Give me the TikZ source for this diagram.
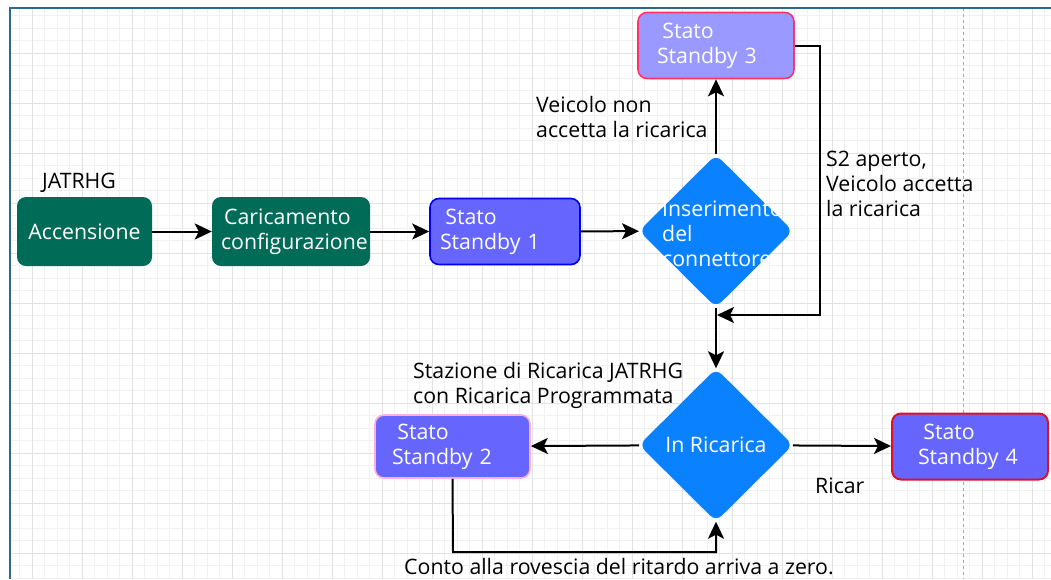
\documentclass[tikz,border=0pt]{standalone}
\usepackage{fontspec}
\setmainfont{Open Sans}
\usetikzlibrary{shapes.geometric,arrows.meta}

\definecolor{gridminor}{HTML}{F1F1F1}
\definecolor{gridmajor}{HTML}{E2E2E2}
\definecolor{framecol}{HTML}{2B6A8C}
\definecolor{startgreen}{HTML}{006B56}
\definecolor{standbyfill}{HTML}{6666FF}
\definecolor{standbylight}{HTML}{9999FF}
\definecolor{decisionblue}{HTML}{0A82FF}
\definecolor{borderblue}{HTML}{0000EE}
\definecolor{borderpink}{HTML}{FF3366}
\definecolor{borderrose}{HTML}{FFB0D8}
\definecolor{borderred}{HTML}{DD1122}

\begin{document}
\begin{tikzpicture}[x=1pt,y=-1pt,
    txt/.style={font=\fontsize{21.3}{25}\selectfont},
    greenbox/.style={txt, rectangle, rounded corners=9pt, fill=startgreen, text=white,
        minimum width=#1, minimum height=69pt, align=left, inner sep=2pt},
    standby/.style={txt, rectangle, rounded corners=9pt, fill=standbyfill, text=white,
        minimum width=156pt, minimum height=66pt, align=left, line width=1.6pt, inner sep=2pt},
    decision/.style={txt, diamond, rounded corners=8pt, fill=decisionblue, text=white,
        minimum width=154pt, minimum height=153pt, inner sep=0pt},
    note/.style={txt, align=left, inner sep=0pt, text=black},
    arr/.style={line width=2pt, -{Stealth[length=17pt,width=16pt,inset=4pt]}}
]
    \useasboundingbox (0,0) rectangle (1051,579);
    \fill[white] (0,0) rectangle (1051,579);

    % Grid
    \begin{scope}
        \clip (10,8) rectangle (1051,579);
        \foreach \x in {19.5,32,...,1057} {
            \draw[gridminor, line width=0.7pt] (\x,8) -- (\x,579);
        }
        \foreach \y in {15.5,28,...,579} {
            \draw[gridminor, line width=0.7pt] (10,\y) -- (1051,\y);
        }
        \foreach \x in {32,82,...,1032} {
            \draw[gridmajor, line width=1pt] (\x,8) -- (\x,579);
        }
        \foreach \y in {53,103,...,553} {
            \draw[gridmajor, line width=1pt] (10,\y) -- (1051,\y);
        }
        \draw[gray!70, dashed, line width=0.8pt] (963,8) -- (963,579);
    \end{scope}
    \draw[framecol, line width=2.5pt] (10,579) -- (10,8) -- (1051,8);

    % Start sequence
    \node[note] (jat) at (79,183) {JATRHG};
    \node[greenbox=135pt] (acc) at (84.5,231.5) {Accensione};
    \node[greenbox=158pt, text width=140pt] (car) at (291,231.5) {\hspace{0.15em}Caricamento\\configurazione};
    \node[standby, draw=borderblue, minimum width=150pt, text width=130pt] (sb1) at (505,231.5) {\hspace{0.25em}Stato\\Standby 1};

    % Connector check
    \node[decision] (ins) at (716,231) {};
    \node[note, anchor=west, text=white] (instxt) at (662,234) {Inserimento\\del\\connettore};
    \node[standby, draw=borderpink, fill=standbylight, text width=118pt] (sb3) at (716,45.5) {\hspace{0.25em}Stato\\Standby 3};
    \node[note, anchor=west] (nok) at (536,117) {Veicolo non\\accetta la ricarica};
    \node[note, anchor=west] (ok) at (826,184) {S2 aperto,\\Veicolo accetta\\la ricarica};

    % Charging
    \node[decision] (ric) at (716,445) {In Ricarica};
    \node[note, anchor=west] (staz) at (413,385) {Stazione di Ricarica JATRHG\\con Ricarica Programmata};
    \node[standby, draw=borderrose, minimum width=155pt, minimum height=63pt, text width=121pt] (sb2) at (452.5,446.5) {\hspace{0.25em}Stato\\Standby 2};
    \node[standby, draw=borderred, line width=2pt, text width=104pt] (sb4) at (970,446.5) {\hspace{0.25em}Stato\\Standby 4};
    \node[note, anchor=west] (ricar) at (815,486) {Ricar};
    \node[note] (conto) at (619,567) {Conto alla rovescia del ritardo arriva a zero.};

    \coordinate (j1) at (717,315);
    \coordinate (c1) at (820,315);
    \coordinate (c2) at (453,552);

    \draw[arr] (acc) -- (car);
    \draw[arr] (car) -- (sb1);
    \draw[arr] (sb1) -- (ins);
    \draw[arr] (ins) -- (sb3);
    \draw[arr] (sb3.east) -| (c1) -- (j1);
    \draw[arr] (ins) -- (ric);
    \draw[arr] (ric) -- (sb2);
    \draw[arr] (ric) -- (sb4);
    \draw[arr] (sb2.south) -- (c2) -| (ric.south);
\end{tikzpicture}
\end{document}
